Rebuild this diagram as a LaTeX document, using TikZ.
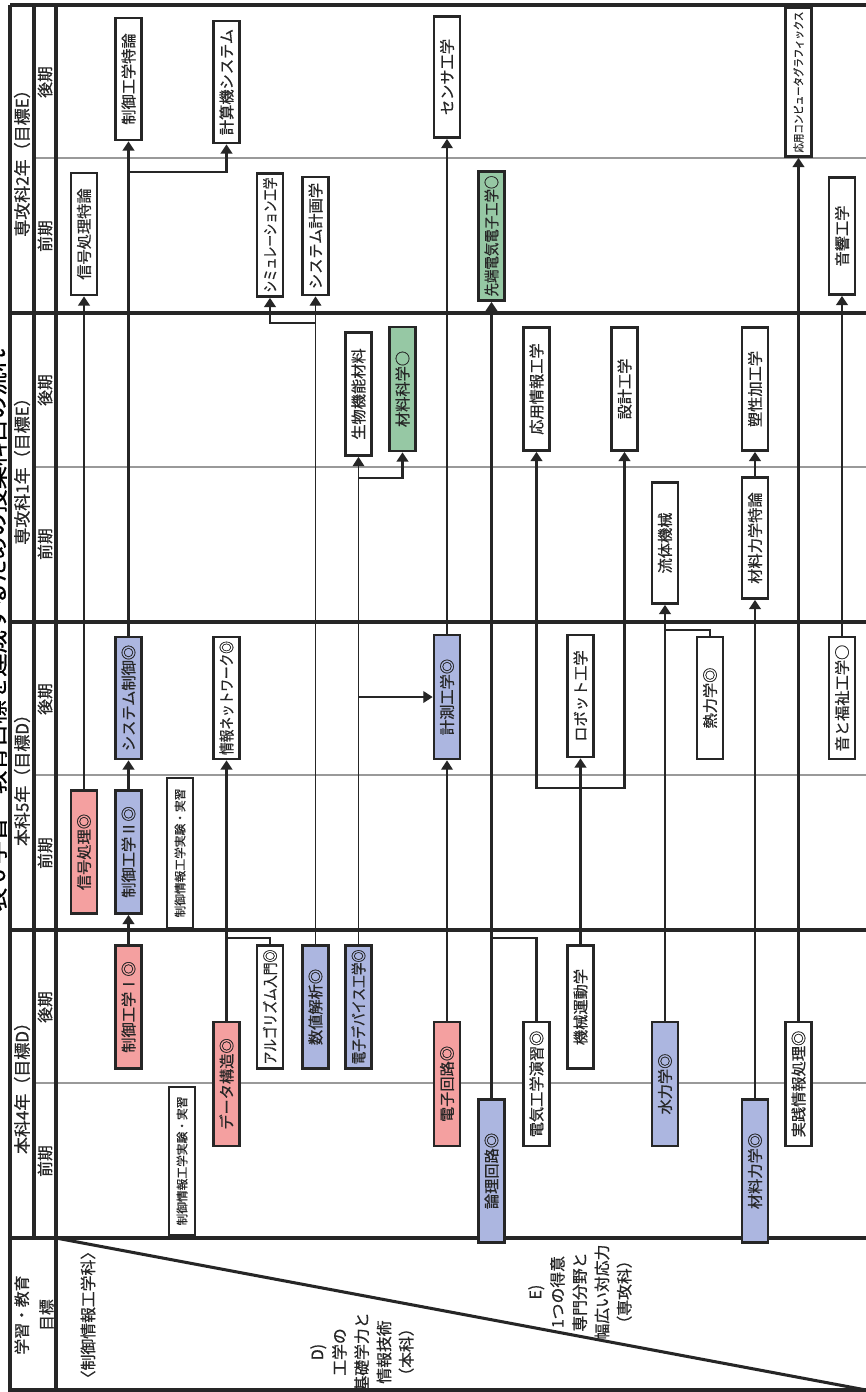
\documentclass[tikz,border=0pt]{standalone}
\usepackage{fontspec}
\newfontfamily\jp{Noto Sans CJK JP}[FakeBold=0.7]
\usepackage{graphicx}
\usetikzlibrary{arrows.meta}
\definecolor{pinkc}{RGB}{244,160,160}
\definecolor{bluec}{RGB}{172,182,224}
\definecolor{greenc}{RGB}{150,200,164}
\newlength\pxu
\setlength\pxu{0.03cm}
% squeeze a label into its box when it is too long
\newcommand\fitbox[1]{\resizebox{\ifdim\width>\dimexpr\crslen\pxu-7pt\relax\dimexpr\crslen\pxu-7pt\relax\else\width\fi}{\height}{#1}}

\begin{document}
\begin{tikzpicture}[x=0.03cm, y=-0.03cm, font=\jp,
    gridline/.style={line width=2.6pt, black!85},
    semline/.style={line width=1.6pt, black!40},
    crs/.style={draw=black!85, line width=2.3pt, fill=white, rotate=90, minimum height=26\pxu,
      minimum width=#1\pxu, inner sep=1pt, text=black!85, font=\jp\fontsize{13}{13}\selectfont,
      execute at begin node={\def\crslen{#1}}},
    smalltxt/.style={font=\jp\fontsize{10}{10}\selectfont},
    flow/.style={line width=2pt, black!85, -{Triangle[width=10pt,length=8pt]}},
    thinflow/.style={flow, line width=1.2pt},
    boldflow/.style={flow, line width=3.2pt},
    joinline/.style={line width=2pt, black!85},
    yrlbl/.style={rotate=90, text=black!85, font=\jp\fontsize{14.5}{15}\selectfont},
    semlbl/.style={rotate=90, text=black!85, font=\jp\fontsize{13.5}{14}\selectfont},
    goal/.style={rotate=90, align=center, text=black!85, font=\jp\fontsize{13.5}{19}\selectfont}]
  \useasboundingbox (0,0) rectangle (866,1392);
  \fill[white] (0,0) rectangle (866,1392);

  % table frame
  \foreach \y in {5,313,622,930,1238}
    \draw[gridline] (10,\y) -- (866,\y);
  \foreach \y in {158,467,775,1083}
    \draw[semline] (34,\y) -- (866,\y);
  \draw[gridline] (10,5) -- (10,1390) -- (866,1390);
  \draw[gridline] (34,5) -- (34,1238);
  \draw[gridline] (56,5) -- (56,1390);
  \draw[gridline] (56,1238) -- (866,1390);

  \node[rotate=90, font=\jp\fontsize{20}{20}\selectfont] (title) at (-4,630) {表 6 学習・教育目標を達成するための授業科目の流れ};

  \foreach \yc/\lbl [count=\i] in {159/専攻科2年（目標E）, 467/専攻科1年（目標E）, 776/本科5年（目標D）, 1084/本科4年（目標D）}
    \node[yrlbl] (yr\i) at (22,\yc) {\lbl};
  \foreach \t [count=\i] in {5,313,622,930} {
    \node[semlbl] (late\i) at (45,\t+77) {後期};
    \node[semlbl] (early\i) at (45,\t+231) {前期};
  }

  % goals
  \node[goal, font=\jp\fontsize{13.5}{21}\selectfont] (goallbl) at (34,1315) {学習・教育\\目標};
  \node[goal] (dept) at (88,1315) {〈制御情報工学科〉};
  \node[goal] (goald) at (362,1352) {D)\\工学の\\基礎学力と\\情報技術\\（本科）};
  \node[goal] (goale) at (580,1292) {E)\\1つの得意\\専門分野と\\幅広い対応力\\（専攻科）};

  % 専攻科2年
  \node[crs=122] (ctlt) at (128.5,79) {\fitbox{制御工学特論}};
  \node[crs=122] (compsys) at (226.5,82) {\fitbox{計算機システム}};
  \node[crs=121] (sensor) at (447,77) {\fitbox{センサ工学}};
  \node[crs=149, font=\jp\fontsize{9.5}{10}\selectfont] (cg) at (798.5,82) {\fitbox{応用コンピュータグラフィックス}};
  \node[crs=122] (sigpt) at (84,234) {\fitbox{信号処理特論}};
  \node[crs=123] (sim) at (270,235) {\fitbox{シミュレーション工学}};
  \node[crs=118] (sysplan) at (315.5,236) {\fitbox{システム計画学}};
  \node[crs=129, fill=greenc] (aee) at (491.5,236) {\fitbox{先端電気電子工学○}};
  \node[crs=117] (acou) at (842,236) {\fitbox{音響工学}};

  % 専攻科1年
  \node[crs=123] (bio) at (358.5,394) {\fitbox{生物機能材料}};
  \node[crs=124, fill=greenc] (matsci) at (402.5,389) {\fitbox{材料科学○}};
  \node[crs=123] (apinfo) at (536.5,389) {\fitbox{応用情報工学}};
  \node[crs=123] (design) at (624.5,389) {\fitbox{設計工学}};
  \node[crs=123] (plast) at (755,389) {\fitbox{塑性加工学}};
  \node[crs=121] (fluid) at (665,543) {\fitbox{流体機械}};
  \node[crs=121] (matmt) at (755,538) {\fitbox{材料力学特論}};

  % 本科5年
  \node[crs=122, fill=bluec] (sysctl) at (128.5,698) {\fitbox{システム制御◎}};
  \node[crs=122] (inet) at (226.5,698) {\fitbox{情報ネットワーク◎}};
  \node[crs=124, fill=bluec] (meas) at (447,697) {\fitbox{計測工学◎}};
  \node[crs=122] (robot) at (580.5,696) {\fitbox{ロボット工学}};
  \node[crs=122] (therm) at (710,698) {\fitbox{熱力学◎}};
  \node[crs=122] (sndw) at (842,698) {\fitbox{音と福祉工学○}};
  \node[crs=123, fill=pinkc] (sigp) at (84,852) {\fitbox{信号処理◎}};
  \node[crs=123, fill=bluec] (ctl2) at (128.5,852) {\fitbox{制御工学Ⅱ◎}};
  \node[crs=150, smalltxt] (lab5) at (180,853) {\fitbox{制御情報工学実験・実習}};

  % 本科4年
  \node[crs=123, fill=pinkc] (ctl1) at (128.5,1007) {\fitbox{制御工学Ⅰ◎}};
  \node[crs=123] (algo) at (270,1007) {\fitbox{アルゴリズム入門◎}};
  \node[crs=123, fill=bluec] (numa) at (315.5,1007) {\fitbox{数値解析◎}};
  \node[crs=123, fill=bluec] (edev) at (358.5,1007) {\fitbox{電子デバイス工学◎}};
  \node[crs=123] (mech) at (580.5,1007) {\fitbox{機械運動学}};
  \node[crs=124, fill=pinkc] (dstr) at (226.5,1084) {\fitbox{データ構造◎}};
  \node[crs=124, fill=pinkc] (ecir) at (447,1084) {\fitbox{電子回路◎}};
  \node[crs=124] (eex) at (536.5,1084) {\fitbox{電気工学演習◎}};
  \node[crs=124, fill=bluec] (hyd) at (665,1084) {\fitbox{水力学◎}};
  \node[crs=124] (pinfo) at (798.5,1084) {\fitbox{実践情報処理◎}};
  \node[crs=143, fill=bluec] (logic) at (491.5,1171) {\fitbox{論理回路◎}};
  \node[crs=143, fill=bluec] (matm) at (755,1171) {\fitbox{材料力学◎}};
  \node[crs=148, smalltxt] (lab4) at (182,1161) {\fitbox{制御情報工学実験・実習}};

  % flows
  \draw[flow] (sigp.east) -- (sigpt.west);
  \draw[flow] (ctl1.east) -- (ctl2.west);
  \draw[flow] (ctl2.east) -- (sysctl.west);
  \draw[flow] (sysctl.east) -- (ctlt.west);
  \coordinate (jcs) at (128.5,172);
  \draw[flow] (jcs) -| (compsys.west);
  \draw[flow] (dstr.east) -- (inet.west);
  \coordinate (jal) at (226.5,938);
  \draw[joinline] (algo.east) |- (jal);
  \draw[thinflow] (numa.east) -- (sysplan.west);
  \coordinate (jsp) at (315.5,323);
  \draw[flow] (jsp) -| (sim.west);
  \draw[thinflow] (edev.east) -- (bio.west);
  \coordinate (jbm) at (358.5,478);
  \draw[flow] (jbm) -| (matsci.west);
  \coordinate (jms) at (358.5,697);
  \draw[thinflow] (jms) -- (meas.north);
  \draw[thinflow] (ecir.east) -- (meas.west);
  \draw[thinflow] (meas.east) -- (sensor.west);
  \draw[boldflow] (logic.east) -- (aee.west);
  \coordinate (jee) at (491.5,938);
  \draw[joinline] (eex.east) |- (jee);
  \draw[flow] (mech.east) -- (robot.west);
  \coordinate (jrb) at (580.5,788);
  \draw[flow] (jrb) -| (apinfo.west);
  \draw[flow] (jrb) -| (design.west);
  \draw[flow] (hyd.east) -- (fluid.west);
  \coordinate (jfl) at (665,630);
  \draw[joinline] (therm.east) |- (jfl);
  \draw[flow] (matm.east) -- (matmt.west);
  \draw[flow] (matmt.east) -- (plast.west);
  \draw[flow] (pinfo.east) -- (cg.west);
  \draw[flow] (sndw.east) -- (acou.west);
\end{tikzpicture}
\end{document}
